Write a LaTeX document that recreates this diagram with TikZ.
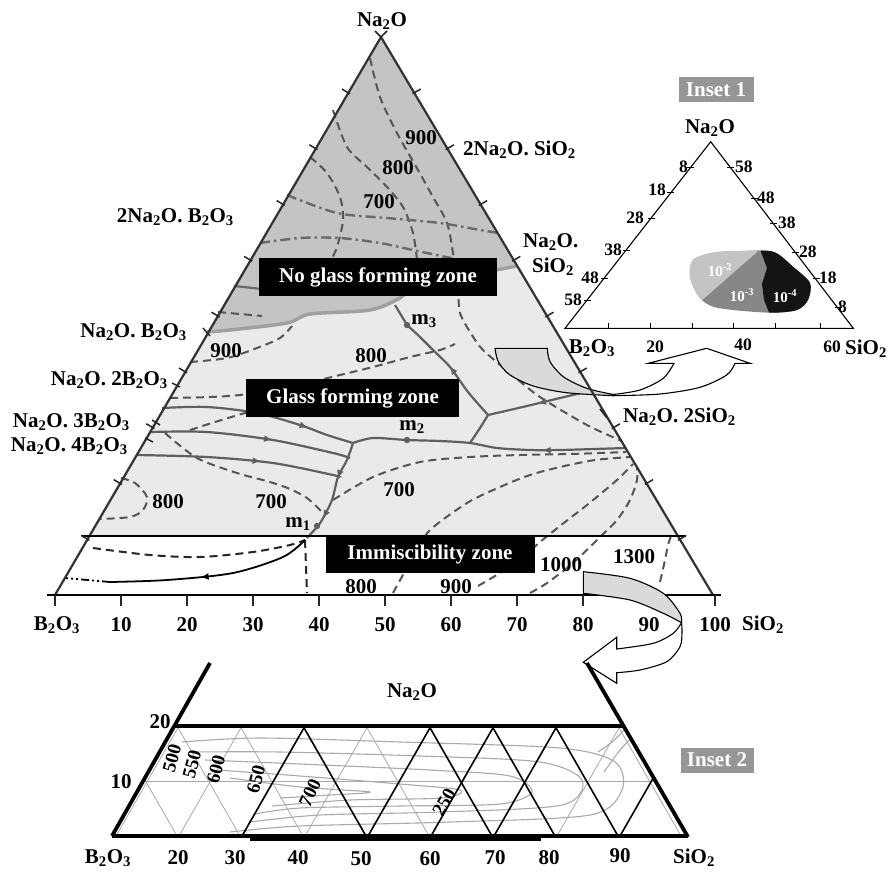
\documentclass[tikz,border=0pt]{standalone}
\usepackage{fontspec}
\setmainfont{Liberation Serif}
\usetikzlibrary{arrows.meta,decorations.markings}
\newcommand{\sbt}[1]{\textsubscript{#1}}
\newcommand{\spt}[1]{\textsuperscript{#1}}
\definecolor{noglass}{RGB}{196,196,196}
\definecolor{glassfill}{RGB}{234,234,234}
\definecolor{isogray}{RGB}{85,85,85}
\definecolor{ddgray}{RGB}{105,105,105}
\definecolor{liqgray}{RGB}{95,95,95}
\definecolor{bndgray}{RGB}{160,160,160}
\definecolor{arrowgray}{RGB}{218,218,218}
\definecolor{boxgray}{RGB}{150,150,150}
\definecolor{lightblob}{RGB}{196,196,196}
\definecolor{midblob}{RGB}{135,135,135}
\definecolor{gridgray}{RGB}{170,170,170}
\begin{document}
\begin{tikzpicture}[x=1pt,y=-1pt,
  lbl/.style={font=\bfseries\fontsize{21}{23}\selectfont, inner sep=0pt},
  rlbl/.style={font=\bfseries\fontsize{19}{21}\selectfont, inner sep=0pt},
  sml/.style={font=\bfseries\fontsize{17.5}{19}\selectfont, inner sep=0pt},
  tiny/.style={font=\bfseries\fontsize{15}{17}\selectfont, inner sep=0pt, text=white},
  blackbox/.style={fill=black, text=white, font=\bfseries\fontsize{21}{23}\selectfont, inner sep=0pt, minimum height=38pt},
  graybox/.style={fill=boxgray, text=white, font=\bfseries\fontsize{21}{23}\selectfont, inner sep=0pt, minimum width=75pt, minimum height=25pt},
  iso/.style={draw=isogray, line width=2pt, dash pattern=on 8pt off 5pt},
  ddl/.style={draw=ddgray, line width=2.4pt, dash pattern=on 10pt off 4pt on 2.5pt off 4pt},
  liq/.style={draw=liqgray, line width=2.2pt},
  bnd/.style={draw=bndgray, line width=3.5pt},
  tickst/.style={draw=black!85, line width=1.5pt},
  grd/.style={draw=gridgray, line width=0.8pt},
  zig/.style={draw=black, line width=1.6pt},
  thickk/.style={draw=black, line width=3.8pt},
  midarr/.style={postaction={decorate,decoration={markings,mark=at position #1 with {\arrow{Triangle[length=7pt,width=6pt]}}}}},
  midarr/.default=0.5
]
\useasboundingbox (0,0) rectangle (889,871);
\fill[white] (0,0) rectangle (889,871);

% ===== main triangle fills =====
\fill[glassfill] (381,37) -- (87.6,536) -- (678,536) -- cycle;
\fill[noglass] (381,37) -- (207,332) -- plot[smooth] coordinates {(207,332) (230,330) (287,323) (310,314) (370,310) (400,298) (413,287) (460,277) (517,266)} -- cycle;

% ===== isotherms in the no glass zone =====
\draw[iso] plot[smooth] coordinates {(370,58) (380,97) (397,133) (418,170) (433,197) (447,223) (453,253) (458,287) (460,313) (472,335) (483,350) (510,373) (540,397) (587,425) (622,441)};
\draw[iso] plot[smooth] coordinates {(333,110) (347,147) (367,167) (387,187) (403,207) (413,233) (417,260)};
\draw[iso] plot[smooth] coordinates {(310,157) (327,173) (340,197) (343,220) (337,247) (330,262)};
\draw[ddl] plot[smooth] coordinates {(287,195) (337,213) (387,218) (440,223) (480,230) (499,233)};
\draw[ddl] plot[smooth] coordinates {(260,243) (300,238) (340,238) (380,243) (413,250) (460,260) (495,268)};
\draw[iso] (218,312) -- (262,316);
\draw[liq, draw=ddgray] (234,286) -- (262,289);

% ===== isotherms in the glass forming zone =====
\draw[iso] plot[smooth] coordinates {(190,362) (227,358) (257,348) (280,338) (292,326)};
\draw[iso] plot[smooth] coordinates {(170,398) (210,397) (240,395) (273,390) (307,383) (340,375) (373,367) (410,357) (440,350) (455,344)};
\draw[iso] plot[smooth] coordinates {(190,430) (215,422) (245,413) (275,405)};
\draw[iso] plot[smooth] coordinates {(165,433) (197,458) (237,473) (270,482) (290,489) (307,498) (322,512)};
\draw[iso] plot[smooth] coordinates {(121,478) (135,483) (147,497) (143,510) (130,517) (100,519)};
\draw[iso] plot[smooth] coordinates {(333,500) (373,477) (420,462) (470,457) (520,455) (570,454) (626,452)};
\draw[iso] plot[smooth] coordinates {(393,593) (403,575) (418,550) (430,530) (467,503) (500,487) (530,475) (560,467) (595,460) (630,457)};
\draw[iso] plot[smooth] coordinates {(478,586) (500,573) (520,560) (540,542) (565,522) (587,505) (617,480) (633,464)};
\draw[iso] plot[smooth] coordinates {(530,593) (547,583) (573,563) (600,537) (617,520) (630,500) (637,480) (637,467)};
\draw[iso] plot[smooth] coordinates {(660,582) (665,560) (668,545) (671,536)};

% ===== immiscibility zone lines =====
\draw[iso, draw=black!85] plot[smooth] coordinates {(93,548) (150,555) (200,557) (253,552) (290,545) (305,540)};
\draw[iso, draw=black!85] (305,540) -- (307,593);
\draw[black, line width=1.8pt, midarr=0.55] plot[smooth] coordinates {(305,540) (283,557) (233,573) (167,580) (110,582)};
\draw[black, line width=1.8pt, dash pattern=on 8pt off 3pt on 2pt off 3pt on 2pt off 3pt] (110,582) -- (65,578);

% ===== boundary of the no glass forming zone =====
\draw[bnd] plot[smooth] coordinates {(207,332) (230,330) (287,323) (310,314) (370,310) (400,298) (413,287) (460,277) (517,266)};

% ===== liquidus (solid) lines =====
\draw[liq, midarr=0.75] plot[smooth] coordinates {(162,408) (207,407) (257,413) (300,425) (327,435) (353,443)};
\draw[liq, midarr=0.6] plot[smooth] coordinates {(150,432) (207,432) (273,440) (333,453) (350,458)};
\draw[liq, midarr=0.6] plot[smooth] coordinates {(137,455) (207,457) (273,463) (333,475) (338,477)};
\draw[liq, midarr=0.35, postaction={decorate,decoration={markings,mark=at position 0.75 with {\arrow{Triangle[length=7pt,width=6pt]}}}}] plot[smooth] coordinates {(353,443) (347,460) (338,477) (332,500) (322,520) (317,527) (307,538)};
\draw[liq, midarr=0.3] plot[smooth] coordinates {(626,448) (560,450) (530,450) (497,448) (470,443) (440,441) (407,440) (373,438) (353,443)};
\draw[liq] plot[smooth] coordinates {(470,443) (480,428) (488,415)};
\draw[liq, midarr=0.5] plot[smooth] coordinates {(590,391) (560,398) (527,406) (488,415)};
\draw[liq, midarr=0.5] plot[smooth] coordinates {(488,415) (468,392) (450,367) (433,350) (420,337) (407,325)};
\draw[liq] (395,305) -- (407,325);
\fill[liqgray] (317,526) circle (3.2);
\fill[liqgray] (407,440) circle (3.2);
\fill[liqgray] (407,325) circle (3.2);

% ===== arrow 1 (to inset 1) =====
\filldraw[fill=arrowgray, draw=black, line width=1.1pt] (495,348.3) -- (547.3,348.3) -- plot[smooth] coordinates {(547.3,348.3) (550,361.7) (563.3,376.7) (586.7,388.3) (613.3,394.5)} -- plot[smooth] coordinates {(613.3,395.7) (566.7,392.7) (533.3,386) (510,375) (498.3,361.7) (495,348.3)} -- cycle;
\filldraw[fill=white, draw=black, line width=1.1pt] (613.3,394.5) -- plot[smooth] coordinates {(613.3,394.5) (640,390) (663.3,378.3) (674,363.3)} -- (648.3,363.3) -- (706.7,348.3) -- (750,363.3) -- (735,363.3) -- plot[smooth] coordinates {(735,363.3) (726.7,375) (700,387.3) (660,394) (613.3,395.7)} -- cycle;

% ===== main triangle outline, ticks =====
\draw[draw=black!80, line width=2.2pt] (381,37) -- (55,595);
\draw[draw=black!80, line width=2.2pt] (381,37) -- (713,595);
\draw[black, line width=2.4pt] (47,595) -- (721,595);
\draw[black, line width=2.2pt] (82,536) -- (686,536);
\draw[tickst] (375,31) -- (381,37) -- (387,31);
\foreach \t in {1,...,9}{
  \draw[tickst] ({381-32.6*\t+1.7},{37+55.8*\t+1}) -- ({381-32.6*\t-6.5},{37+55.8*\t-3.8});
  \draw[tickst] ({381+33.2*\t-1.7},{37+55.8*\t+1}) -- ({381+33.2*\t+6.5},{37+55.8*\t-3.8});
}
\foreach \t in {0,...,10}{ \draw[tickst] ({55+66*\t},595) -- ({55+66*\t},606); }
\draw[tickst] (203,328) -- (210,336);
\draw[tickst] (172,383) -- (180,387);
\draw[tickst] (152,420) -- (160,425);
\draw[tickst] (145,438) -- (153,442);
\draw[tickst] (600,409) -- (607,418);

% ===== arrow 2 (to inset 2) =====
\filldraw[fill=arrowgray, draw=black, line width=1.1pt] (583.3,571.7) -- plot[smooth] coordinates {(583.3,571.7) (630,578.3) (663.3,593.3) (680,613.3) (681.5,622.7)} -- plot[smooth] coordinates {(681.5,622.7) (663.3,613.3) (630,600) (583.3,593.3)} -- cycle;
\filldraw[fill=white, draw=black, line width=1.1pt] (681.5,622.7) -- plot[smooth] coordinates {(681.5,622.7) (673.3,633.3) (653.3,643.3) (616.7,649)} -- (616.7,637.3) -- (583.3,662.3) -- (616.7,683.3) -- (616.7,672.7) -- plot[smooth] coordinates {(616.7,672.7) (640,670) (666.7,661.7) (680,646.7) (682,632) (681.5,622.7)} -- cycle;

% ===== black zone boxes =====
\node[blackbox, minimum width=238pt] (ngz) at (378,277) {No glass forming zone};
\node[blackbox, minimum width=213pt] (gz) at (352.5,398) {Glass forming zone};
\node[blackbox, minimum width=209pt, minimum height=37pt] (iz) at (430,554.5) {Immiscibility zone};

% ===== main labels =====
\node[lbl] (tna) at (382,21) {Na\sbt{2}O};
\node[lbl, anchor=west] (c1) at (463,150) {2Na\sbt{2}O. SiO\sbt{2}};
\node[lbl, anchor=west] (c2a) at (523,242) {Na\sbt{2}O.};
\node[lbl, anchor=west] (c2b) at (532,267) {SiO\sbt{2}};
\node[lbl, anchor=west] (c3) at (623,417) {Na\sbt{2}O. 2SiO\sbt{2}};
\node[lbl, anchor=east] (c4) at (234,217) {2Na\sbt{2}O. B\sbt{2}O\sbt{3}};
\node[lbl, anchor=east] (c5) at (187,332) {Na\sbt{2}O. B\sbt{2}O\sbt{3}};
\node[lbl, anchor=east] (c6) at (168,380) {Na\sbt{2}O. 2B\sbt{2}O\sbt{3}};
\node[lbl, anchor=east] (c7) at (130,422) {Na\sbt{2}O. 3B\sbt{2}O\sbt{3}};
\node[lbl, anchor=east] (c8) at (128,446) {Na\sbt{2}O. 4B\sbt{2}O\sbt{3}};
\node[lbl] (n1) at (421,138) {900};
\node[lbl] (n2) at (398,168) {800};
\node[lbl] (n3) at (379,202) {700};
\node[lbl] (n4) at (226,351) {900};
\node[lbl] (n5) at (371,356) {800};
\node[lbl] (n6) at (168,502) {800};
\node[lbl] (n7) at (271,502) {700};
\node[lbl] (n8) at (399,490) {700};
\node[lbl] (n9) at (361,587) {800};
\node[lbl] (n10) at (456,587) {900};
\node[lbl] (n11) at (561,565) {1000};
\node[lbl] (n12) at (634,557) {1300};
\node[lbl] (m1) at (298,524) {m\sbt{1}};
\node[lbl] (m2) at (412,427) {m\sbt{2}};
\node[lbl] (m3) at (424,321) {m\sbt{3}};
% bottom axis
\node[lbl] (bb) at (57,625) {B\sbt{2}O\sbt{3}};
\foreach \t/\v in {1/10,2/20,3/30,4/40,5/50,6/60,7/70,8/80,9/90,10/100}{
  \node[lbl] (ax\t) at ({55+66*\t},625) {\v};
}
\node[lbl] (bs) at (763,625) {SiO\sbt{2}};

% ===== inset 1 =====
\node[graybox] (ins1) at (716,89.5) {Inset 1};
\begin{scope}
\clip plot[smooth cycle] coordinates {(693,260) (713,252.7) (740,251) (773,251.7) (793,266.7) (810,283) (808,300) (797,310) (773,312.7) (740,310.7) (713,306.7) (699,297) (690,277)};
\fill[midblob] (680,240) rectangle (820,320);
\fill[lightblob] (680,240) -- (757,240) -- (757,252) -- (700,302) -- (680,320) -- cycle;
\fill[black!92] (761,240) -- (761,252) -- (767,268) -- (762,284) -- (764,300) -- (772,320) -- (820,320) -- (820,240) -- cycle;
\end{scope}
\draw[black, line width=1.1pt] (710.7,141.7) -- (565,328.3) -- (853.3,328.3) -- cycle;
\foreach \y in {167,192.7,218,250,278,300}{
  \draw[black, line width=0.9pt] ({710.7-0.781*(\y-141.7)-3.5},\y) -- ({710.7-0.781*(\y-141.7)+3.5},\y);
}
\foreach \y in {167,198,223,252,278,307}{
  \draw[black, line width=0.9pt] ({710.7+0.7725*(\y-141.7)-3.5},\y) -- ({710.7+0.7725*(\y-141.7)+3.5},\y);
}
\foreach \x in {608,650,692,733,775,820}{
  \draw[black, line width=0.9pt] (\x,328.3) -- (\x,323);
}
\node[lbl] (i1na) at (710,128) {Na\sbt{2}O};
\node[sml, anchor=east] (l8) at (688,167) {8};
\node[sml, anchor=east] (l18) at (666,190) {18};
\node[sml, anchor=east] (l28) at (644,218) {28};
\node[sml, anchor=east] (l38) at (622,250) {38};
\node[sml, anchor=east] (l48) at (599,278) {48};
\node[sml, anchor=east] (l58) at (582,300) {58};
\node[sml, anchor=west] (r58) at (735,167) {58};
\node[sml, anchor=west] (r48) at (757,198) {48};
\node[sml, anchor=west] (r38) at (778,223) {38};
\node[sml, anchor=west] (r28) at (799,252) {28};
\node[sml, anchor=west] (r18) at (819,278) {18};
\node[sml, anchor=west] (r8) at (838,307) {8};
\node[tiny] (e2) at (720,270) {10\spt{-2}};
\node[tiny] (e3) at (742,295) {10\spt{-3}};
\node[tiny] (e4) at (785,296) {10\spt{-4}};
\node[lbl] (i1b) at (592,348) {B\sbt{2}O\sbt{3}};
\node[sml] (i1x20) at (655,347) {20};
\node[sml] (i1x40) at (743,345) {40};
\node[sml] (i1x60) at (832,347) {60};
\node[lbl, anchor=west] (i1s) at (845,349) {SiO\sbt{2}};

% ===== inset 2 =====
\node[graybox, minimum width=73pt] (ins2) at (717,760) {Inset 2};
\begin{scope}
\clip (174.3,726) -- (623.6,726) -- (688,836) -- (112,836) -- cycle;
\foreach \k in {-4,...,8}{
  \draw[grd] ({242+63*\k},836) -- ({242+63*\k+63},726);
  \draw[grd] ({303+63*\k},726) -- ({303+63*\k+63},836);
}
\draw[grd] (100,781) -- (700,781);
\draw[grd, line width=1.1pt] plot[smooth] coordinates {(182,742) (260,738) (400,742) (560,748) (615,762) (622,790) (590,815) (450,822) (300,826) (230,832)};
\draw[grd, line width=1.1pt] plot[smooth] coordinates {(192,752) (280,752) (420,756) (540,762) (582,780) (562,805) (440,812) (320,815) (250,822)};
\draw[grd, line width=1.1pt] plot[smooth] coordinates {(205,760) (300,764) (430,770) (510,776) (532,792) (500,804) (400,806) (300,808) (255,814)};
\draw[grd, line width=1.1pt] plot[smooth] coordinates {(218,770) (300,776) (400,784) (460,790) (442,798) (350,800) (272,806)};
\draw[grd, line width=1.1pt] plot[smooth] coordinates {(230,778) (300,787) (370,792) (330,795) (280,798)};
\draw[grd, line width=1.1pt] plot[smooth] coordinates {(598,752) (612,742) (624,730)};
\draw[grd, line width=1.1pt] plot[smooth] coordinates {(604,772) (620,750) (634,736)};
\foreach \k in {0,2,3,4,6}{ \draw[zig] ({242+63*\k},836) -- ({242+63*\k+63},726); }
\foreach \k in {0,2,3,4}{ \draw[zig] ({303+63*\k},726) -- ({303+63*\k+63},836); }
\end{scope}
\draw[thickk] (210,663) -- (112,836);
\draw[thickk] (587,663) -- (688,837);
\draw[thickk] (174,726) -- (622,726);
\draw[thickk] (112,836) -- (688,836);
\draw[black, line width=2.5pt] (250,839.5) -- (541,839.5);
\node[lbl] (i2na) at (412,692) {Na\sbt{2}O};
\node[lbl] (i220) at (160,722) {20};
\node[lbl] (i210) at (121,782) {10};
\node[rlbl, rotate=75] (t500) at (172,758) {500};
\node[rlbl, rotate=75] (t550) at (192,764) {550};
\node[rlbl, rotate=75] (t600) at (216,769) {600};
\node[rlbl, rotate=75] (t650) at (256,779) {650};
\node[rlbl, rotate=65] (t700) at (310,793) {700};
\node[rlbl, rotate=60] (t250) at (444,802) {250};
\node[lbl] (i2b) at (108,858) {B\sbt{2}O\sbt{3}};
\node[lbl] (i2x20) at (178,858) {20};
\node[lbl] (i2x30) at (235,858) {30};
\node[lbl] (i2x40) at (298,858) {40};
\node[lbl] (i2x50) at (361,859) {50};
\node[lbl] (i2x60) at (430,859) {60};
\node[lbl] (i2x70) at (495,858) {70};
\node[lbl] (i2x80) at (549,858) {80};
\node[lbl] (i2x90) at (620,856) {90};
\node[lbl] (i2s) at (694,858) {SiO\sbt{2}};
\end{tikzpicture}
\end{document}
